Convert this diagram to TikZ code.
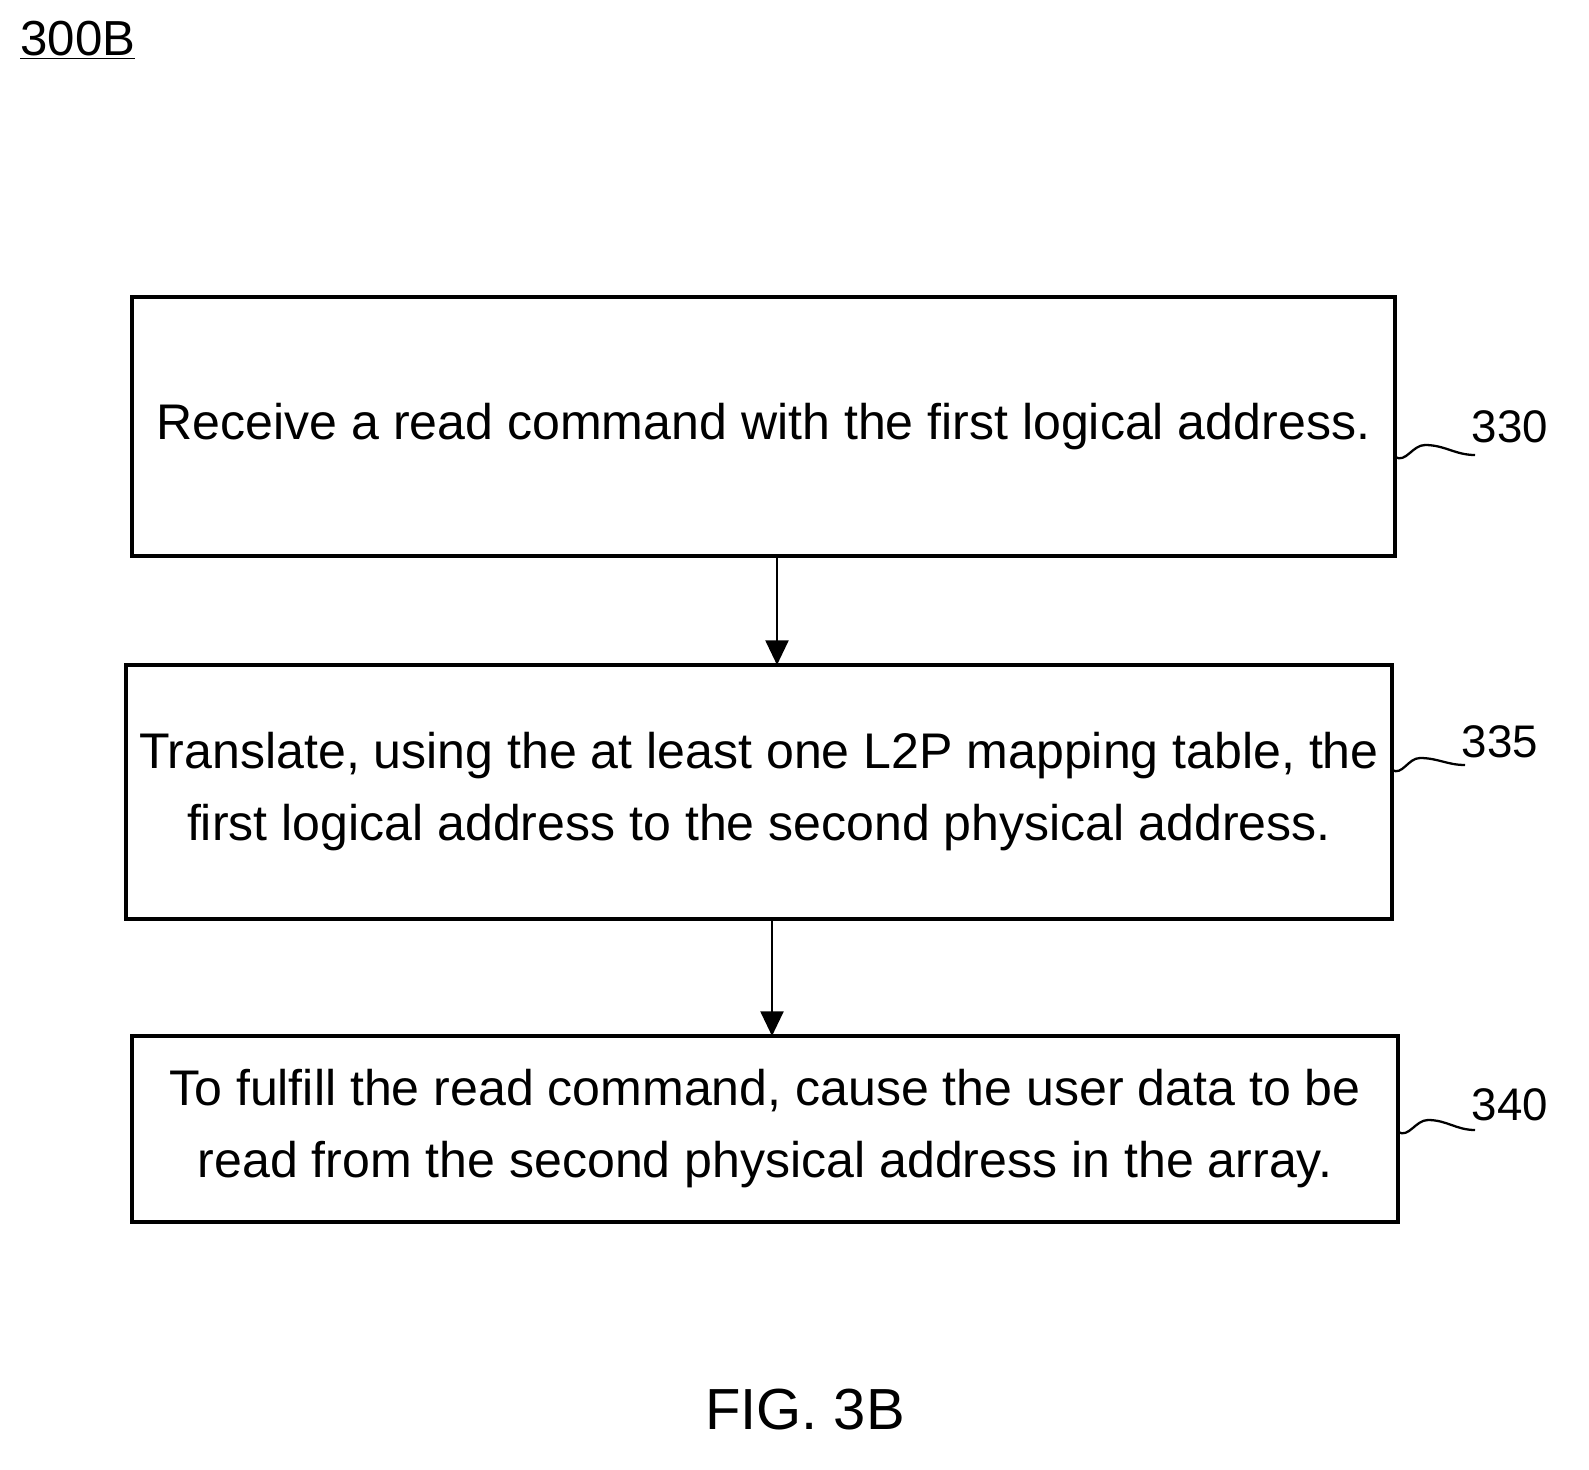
\documentclass[tikz,border=0pt]{standalone}
\usepackage{fontspec}
\setmainfont{Liberation Sans}
\usetikzlibrary{arrows.meta,positioning}
\tikzstyle{block} = [rectangle, draw, line width=2pt, align=center, font=\fontsize{28.5}{41}\selectfont]
\tikzstyle{line} = [draw, line width=1.5pt, -{Triangle[length=14pt,width=13pt]}]
\tikzstyle{tag} = [font=\fontsize{26}{29}\selectfont, inner sep=0pt]
\tikzstyle{wave} = [draw, line width=1.3pt]

\begin{document}
\begin{tikzpicture}[x=0.02cm,y=-0.02cm]
    \useasboundingbox (0,0) rectangle (1589,1470);

    \node [tag, anchor=west, font=\fontsize{28}{31}\selectfont] (fig) at (20,40) {\underline{300B}};

    \node [block, minimum width=25.26cm, minimum height=5.18cm] (receive) at (763.5,426.5)
        {Receive a read command with the first logical address.};
    \node [block, minimum width=25.32cm, minimum height=5.08cm] (translate) at (759,792)
        {Translate, using the at least one L2P mapping table, the\\first logical address to the second physical address.};
    \node [block, minimum width=25.32cm, minimum height=3.72cm] (fulfill) at (765,1129)
        {To fulfill the read command, cause the user data to be\\read from the second physical address in the array.};

    % Draw edges
    \path [line] (777,556) -- (777,665);
    \path [line] (772,919) -- (772,1036);

    % reference numerals
    \node [tag] (r330) at (1510,427) {330};
    \node [tag] (r335) at (1500,742) {335};
    \node [tag] (r340) at (1510,1105) {340};
    \path [wave] (1395,457) to[out=-30,in=180] (1425,445) to[out=0,in=180] (1475,455);
    \path [wave] (1392,770) to[out=-30,in=180] (1420,758) to[out=0,in=180] (1465,765);
    \path [wave] (1398,1132) to[out=-30,in=180] (1428,1120) to[out=0,in=180] (1475,1130);

    \node [font=\fontsize{33}{37}\selectfont] (caption) at (805,1410) {FIG. 3B};
\end{tikzpicture}
\end{document}
